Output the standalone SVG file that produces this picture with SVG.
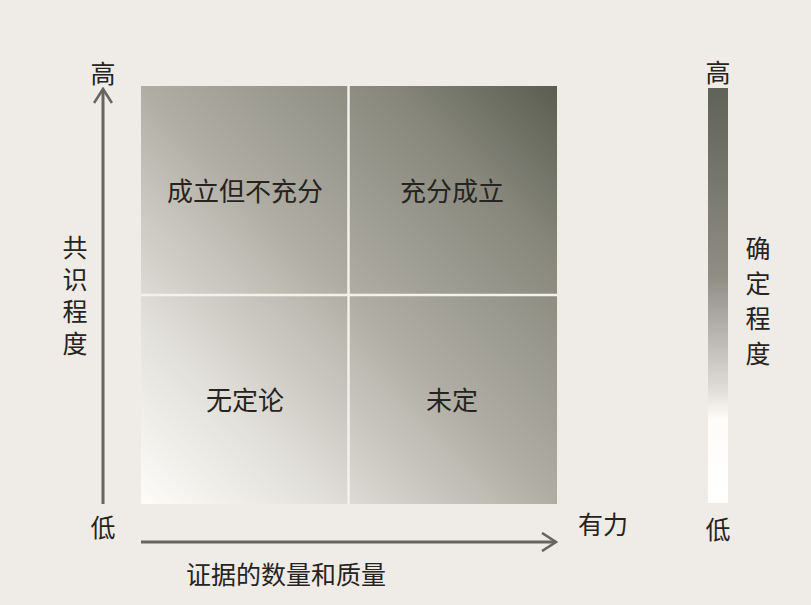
<svg xmlns="http://www.w3.org/2000/svg" width="811" height="605" viewBox="0 0 811 605">
<defs>
<linearGradient id="sq" x1="0" y1="1" x2="1" y2="0">
<stop offset="0" stop-color="#fdfcf9"/>
<stop offset="0.22" stop-color="#e2e0da"/>
<stop offset="0.5" stop-color="#b0aea4"/>
<stop offset="0.8" stop-color="#86867b"/>
<stop offset="1" stop-color="#5a5d50"/>
</linearGradient>
<linearGradient id="bar" x1="0" y1="0" x2="0" y2="1">
<stop offset="0" stop-color="#5f6256"/>
<stop offset="0.45" stop-color="#8e8d84"/>
<stop offset="0.72" stop-color="#dcdbd4"/>
<stop offset="0.8" stop-color="#fdfcf9"/>
<stop offset="1" stop-color="#ffffff"/>
</linearGradient>
<marker id="ah" viewBox="0 0 20 20" refX="18" refY="10" markerWidth="20" markerHeight="20" markerUnits="userSpaceOnUse" orient="auto">
<path d="M4,1 L18,10 L4,19" fill="none" stroke="#66665e" stroke-width="2.6"/>
</marker>
<style>
text{font-family:"Noto Sans CJK SC","Noto Sans CJK JP",sans-serif;fill:#262320;font-size:25px;text-anchor:middle;dominant-baseline:central}
.q{font-size:26px}
.v{writing-mode:vertical-rl;text-orientation:upright}
.ax{stroke:#66665e;stroke-width:3;fill:none}
.div{stroke:#f3f1ec;stroke-width:2.5}
</style>
</defs>
<rect width="811" height="605" fill="#efebe7"/>
<g id="matrix">
<rect x="141" y="86" width="416" height="418" fill="url(#sq)"/>
<line class="div" x1="348.5" y1="86" x2="348.5" y2="504"/>
<line class="div" x1="141" y1="295" x2="557" y2="295"/>
</g>
<g id="q-tl"><text class="q" x="245" y="189">成立但不充分</text></g>
<g id="q-tr"><text class="q" x="452" y="189">充分成立</text></g>
<g id="q-bl"><text class="q" x="245" y="398">无定论</text></g>
<g id="q-br"><text class="q" x="452" y="398">未定</text></g>
<g id="connectors">
<line class="ax" x1="103" y1="504" x2="103" y2="89" marker-end="url(#ah)"/>
<line class="ax" x1="141" y1="542" x2="556" y2="542" marker-end="url(#ah)"/>
</g>
<g id="y-axis-labels">
<text x="103" y="72">高</text>
<text x="103" y="526">低</text>
<text class="v" x="75" y="299" letter-spacing="7">共识程度</text>
</g>
<g id="x-axis-labels">
<text x="603" y="523">有力</text>
<text x="286" y="573">证据的数量和质量</text>
</g>
<g id="scale">
<rect x="708" y="88" width="20" height="415" fill="url(#bar)"/>
<text x="718" y="71">高</text>
<text x="718" y="528">低</text>
<text class="v" x="758" y="306" letter-spacing="10">确定程度</text>
</g>
</svg>
